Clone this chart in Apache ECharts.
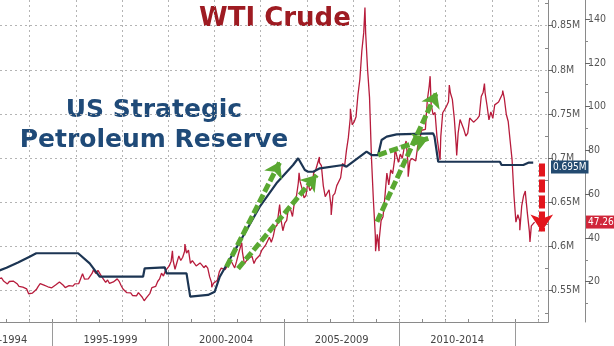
<!DOCTYPE html>
<html>
<head>
<meta charset="utf-8">
<script src="https://cdn.jsdelivr.net/npm/echarts@6/dist/echarts.min.js"></script>
<style>
  html, body { margin: 0; padding: 0; background: #fff; }
  #chart { width: 614px; height: 346px; }
</style>
</head>
<body>
<div id="chart"></div>
<script>
// x axis runs in decimal years
const xMin = 1992.72
const xMax = 2016.43
const yearTicks = [1993, 1994, 1995, 1996, 1997, 1998, 1999, 2000, 2001, 2002, 2003, 2004,
  2005, 2006, 2007, 2008, 2009, 2010, 2011, 2012, 2013, 2014, 2015, 2016]
const gridYears = [1994, 1996, 1998, 2000, 2002, 2004, 2006, 2008, 2010, 2012, 2014, 2016]
const periodBreaks = [1995, 2000, 2005, 2010, 2015]
const periodLabelAt = [1992.73, 1997.5, 2002.5, 2007.5, 2012.5]
const periodLabels = ["1990-1994", "1995-1999", "2000-2004", "2005-2009", "2010-2014"]

// right axes
const sprTicks = [0.55, 0.6, 0.65, 0.7, 0.75, 0.8, 0.85]
const sprMinorTicks = [0.525, 0.575, 0.625, 0.675, 0.725, 0.775, 0.825, 0.875]
const wtiTicks = [20, 40, 60, 80, 100, 120, 140]
const wtiMinorTicks = [10, 30, 50, 70, 90, 110, 130]

// US Strategic Petroleum Reserve
const sprDates = [1992.6, 1993.0, 1993.5, 1994.0, 1994.29, 1996.1, 1996.6, 1997.03, 1998.91, 1998.98,
  1999.85, 1999.92, 2000.79, 2000.95, 2001.72, 2002.01, 2002.23, 2002.81, 2003.39, 2003.96,
  2004.68, 2005.4, 2005.62, 2005.91, 2006.05, 2006.27, 2006.56, 2007.57, 2007.71, 2008.58,
  2008.8, 2009.08, 2009.23, 2009.45, 2009.88, 2011.46, 2011.52, 2011.68, 2014.35, 2014.42,
  2015.36, 2015.58, 2015.79]
const sprValues = [0.572, 0.576, 0.582, 0.5885, 0.5924, 0.5924, 0.581, 0.5659, 0.5659, 0.5754,
  0.5765, 0.5697, 0.5697, 0.5433, 0.5452, 0.5489, 0.5659, 0.5924, 0.6187, 0.6451,
  0.6716, 0.6923, 0.700, 0.6866, 0.6847, 0.6847, 0.6886, 0.6923, 0.6904, 0.7074,
  0.7036, 0.7036, 0.7206, 0.7244, 0.727, 0.7282, 0.7245, 0.696, 0.696, 0.6923,
  0.6923, 0.695, 0.695]

// WTI crude, monthly from Aug 1992
const wtiStartYear = 1992
const wtiStartMonth = 8
const wtiMonthly = [
  21.3, 21.7, 21.7, 20.3, 19.4,
  19.0, 20.1, 20.3, 20.3, 19.9, 19.1, 17.9, 18.0, 17.5, 18.1, 16.7, 14.5,
  15.0, 14.8, 14.7, 16.4, 17.9, 19.1, 19.7, 18.4, 17.5, 17.7, 18.1, 17.2,
  18.0, 18.5, 18.6, 19.9, 19.7, 18.4, 17.3, 18.0, 18.2, 17.4, 18.0, 19.0,
  18.9, 19.1, 21.4, 23.6, 21.2, 20.4, 21.3, 21.9, 23.9, 24.9, 23.7, 25.2,
  25.1, 22.2, 21.0, 19.7, 20.8, 19.2, 19.6, 19.9, 19.8, 21.3, 20.2, 18.3,
  16.7, 16.1, 15.0, 15.4, 14.9, 13.7, 14.2, 13.5, 15.0, 14.4, 12.9, 11.3,
  12.5, 12.0, 14.7, 17.3, 17.8, 17.9, 20.1, 21.3, 23.9, 22.6, 25.0, 26.1,
  27.2, 29.4, 29.9, 25.7, 28.8, 31.8, 29.7, 31.2, 33.9, 33.1, 34.4, 28.4,
  29.6, 29.6, 27.2, 27.4, 28.6, 27.6, 26.4, 27.4, 26.2, 22.2, 19.6, 19.3,
  19.7, 20.7, 24.5, 26.2, 27.0, 25.5, 26.9, 28.4, 29.7, 28.9, 26.3, 29.4,
  32.9, 35.9, 33.6, 28.3, 28.1, 30.7, 30.8, 31.6, 28.3, 30.3, 31.1, 32.1,
  34.3, 34.7, 36.7, 36.7, 40.3, 38.0, 40.7, 44.9, 45.9, 53.1, 48.5, 43.3,
  46.8, 48.0, 54.3, 53.0, 49.8, 56.3, 58.7, 65.0, 65.6, 62.4, 58.3, 59.4,
  65.5, 61.6, 62.9, 69.7, 70.9, 71.0, 74.4, 73.0, 63.8, 58.9, 59.1, 62.0,
  54.5, 59.3, 60.4, 63.9, 63.5, 67.5, 74.1, 72.4, 79.9, 85.8, 94.8, 91.7,
  93.0, 95.4, 105.5, 112.6, 125.4, 133.9, 133.4, 116.7, 104.1, 76.6, 57.3, 41.1,
  41.7, 39.1, 47.9, 49.7, 59.0, 69.6, 64.2, 71.1, 69.4, 75.7, 78.0, 74.5,
  78.3, 76.4, 81.2, 84.3, 73.7, 75.3, 76.3, 76.6, 75.2, 81.9, 84.3, 89.2,
  89.5, 89.6, 102.9, 109.5, 100.9, 96.3, 97.3, 86.3, 85.5, 86.3, 97.2, 98.6,
  100.3, 102.2, 106.2, 103.3, 94.7, 82.3, 87.9, 94.1, 94.5, 89.5, 86.5, 87.9,
  94.8, 95.3, 92.9, 92.0, 94.5, 95.8, 104.6, 106.6, 106.3, 100.5, 93.9, 97.6,
  94.6, 100.8, 100.8, 102.1, 102.2, 105.8, 103.6, 96.5, 93.2, 84.4, 75.8, 59.3,
  47.2, 50.6, 47.8, 54.5, 59.3, 59.8, 50.9, 42.9, 45.5, 46.2
]
// highs and lows that stick out of the monthly line
const wtiExtremes = [
  [1996.78, 25.9], [1998.96, 10.8], [2000.18, 34.1], [2000.72, 37.2], [2001.88, 17.5],
  [2003.18, 37.8], [2004.82, 55.2], [2005.66, 69.8], [2006.54, 77.0], [2007.05, 50.5],
  [2007.88, 99.0], [2008.51, 145.3], [2008.97, 33.9], [2009.12, 34.0], [2009.81, 81.0],
  [2010.38, 68.0], [2011.33, 113.9], [2011.76, 75.7], [2012.16, 109.8], [2012.48, 77.7],
  [2013.68, 110.5], [2014.47, 107.3], [2015.21, 43.5], [2015.45, 61.4], [2015.65, 38.2],
  [2015.85, 47.26]
]

// annotation arrows, in (year, SPR) coordinates
const greenArrows = [
  [[2002.52, 0.577], [2004.83, 0.696]],
  [[2003.02, 0.575], [2006.42, 0.681]],
  [[2009.08, 0.7036], [2011.25, 0.7225]],
  [[2009.03, 0.628], [2011.62, 0.775]]
]
const redArrow = [[2016.16, 0.694], [2016.16, 0.617]]

const sprPoints = sprDates.map((d, i) => [d, sprValues[i]])
const wtiPoints = wtiMonthly
  .map((v, i) => [wtiStartYear + (wtiStartMonth - 1 + i + 0.5) / 12, v])
  .concat(wtiExtremes)
  .sort((a, b) => a[0] - b[0])
const sprLast = sprValues[sprValues.length - 1]
const wtiLast = wtiPoints[wtiPoints.length - 1][1]

const axisFont = "'Liberation Sans Narrow', 'DejaVu Sans Condensed', sans-serif"
const gridStyle = { color: "#b4b4b4", width: 1, type: [2, 3] }
const hiddenLine = { color: "rgba(0,0,0,0)", width: 0 }

function arrowLine(pts, color, width, dash, head) {
  return [
    { coord: pts[0], symbol: "none", lineStyle: { color: color, width: width, type: dash } },
    { coord: pts[1], symbol: "arrow", symbolSize: head }
  ]
}

const option = {
  animation: false,
  backgroundColor: "#fff",
  grid: { left: 0, right: 66, top: 0, bottom: 24, containLabel: false, outerBoundsMode: "none" },
  xAxis: [
    {
      type: "value", min: xMin, max: xMax, position: "bottom",
      axisLine: { onZero: false, lineStyle: { color: "#8a8a8a", width: 1 } },
      axisTick: { customValues: yearTicks, inside: true, length: 3, lineStyle: { color: "#8a8a8a" } },
      axisLabel: { show: false },
      splitLine: { show: false }
    },
    {
      type: "value", min: xMin, max: xMax, position: "bottom",
      axisLine: { show: false, onZero: false },
      axisTick: { customValues: periodBreaks, length: 24, lineStyle: { color: "#9a9a9a" } },
      axisLabel: {
        customValues: periodLabelAt,
        margin: 13,
        color: "#444",
        fontSize: 11,
        fontFamily: axisFont,
        formatter: v => periodLabels[Math.floor((v - 1990) / 5)]
      },
      splitLine: { show: false }
    }
  ],
  yAxis: [
    {
      type: "value", min: 0.5146, max: 0.8791, position: "right",
      axisLine: { show: true, onZero: false, lineStyle: { color: "#8a8a8a" } },
      axisTick: { customValues: sprTicks, length: 5, lineStyle: { color: "#666" } },
      axisLabel: {
        customValues: sprTicks, margin: 3, color: "#555", fontSize: 10.5, fontFamily: axisFont,
        formatter: v => v.toFixed(2).replace(/0$/, "") + "M"
      },
      splitLine: { show: false }
    },
    {
      type: "value", min: 1.6, max: 148.7, position: "right", offset: 37,
      axisLine: { show: true, onZero: false, lineStyle: { color: "#8a8a8a" } },
      axisTick: { customValues: wtiTicks, length: 5, lineStyle: { color: "#666" } },
      axisLabel: { customValues: wtiTicks, margin: 3, color: "#555", fontSize: 10.5, fontFamily: axisFont },
      splitLine: { show: false }
    },
    {
      type: "value", min: 0.5146, max: 0.8791, position: "right",
      axisLine: { show: false },
      axisTick: { customValues: sprMinorTicks, inside: true, length: 3, lineStyle: { color: "#888" } },
      axisLabel: { show: false },
      splitLine: { show: false }
    },
    {
      type: "value", min: 1.6, max: 148.7, position: "right", offset: 37,
      axisLine: { show: false },
      axisTick: { customValues: wtiMinorTicks, length: 3, lineStyle: { color: "#888" } },
      axisLabel: { show: false },
      splitLine: { show: false }
    }
  ],
  graphic: [
    {
      type: "text", x: 199, y: 19.3,
      style: { text: "WTI Crude", font: "bold 26px 'DejaVu Sans'", fill: "#9e1b22", align: "left", verticalAlign: "middle" }
    },
    {
      type: "text", x: 154, y: 110.1,
      style: { text: "US Strategic", font: "bold 25px 'DejaVu Sans'", fill: "#1f4a78", align: "center", verticalAlign: "middle" }
    },
    {
      type: "text", x: 154, y: 140.3,
      style: { text: "Petroleum Reserve", font: "bold 25px 'DejaVu Sans'", fill: "#1f4a78", align: "center", verticalAlign: "middle" }
    }
  ],
  series: [
    {
      // dotted grid
      type: "line", data: [], silent: true,
      markLine: {
        silent: true, z: 1, symbol: ["none", "none"], label: { show: false },
        lineStyle: gridStyle,
        data: gridYears.map(y => ({ xAxis: y })).concat(sprTicks.map(v => ({ yAxis: v })))
      }
    },
    {
      name: "WTI Crude", type: "line", yAxisIndex: 1, data: wtiPoints,
      showSymbol: false, symbol: "none", z: 3,
      lineStyle: { color: "#b71c3c", width: 1.3 },
      markLine: {
        silent: true, z: 12, symbol: ["none", "none"], lineStyle: hiddenLine,
        label: {
          show: true, position: "end", distance: 38, formatter: () => wtiLast.toFixed(2),
          color: "#fff", backgroundColor: "#d0263a", padding: [2, 1, 1, 2],
          fontSize: 10, fontFamily: axisFont
        },
        data: [{ yAxis: wtiLast }]
      }
    },
    {
      name: "SPR", type: "line", yAxisIndex: 0, data: sprPoints,
      showSymbol: false, symbol: "none", z: 4,
      lineStyle: { color: "#1c3553", width: 2.2 },
      markLine: {
        silent: true, z: 12, symbol: ["none", "none"], lineStyle: hiddenLine,
        label: {
          show: true, position: "end", distance: 3, formatter: () => sprLast.toFixed(3) + "M",
          color: "#fff", backgroundColor: "#234a70", padding: [2, 2, 1, 2],
          fontSize: 10, fontFamily: axisFont
        },
        data: [{ yAxis: sprLast }]
      }
    },
    {
      // arrows
      type: "line", yAxisIndex: 0, data: [], silent: true,
      markLine: {
        silent: true, z: 10, label: { show: false },
        data: greenArrows.map(a => arrowLine(a, "#5aa832", 5, [9, 3], 15))
          .concat([arrowLine(redArrow, "#e3161d", 6, [13, 3], 17)])
      }
    }
  ]
}

const chart = echarts.init(document.getElementById("chart"))
chart.setOption(option)
</script>
</body>
</html>
